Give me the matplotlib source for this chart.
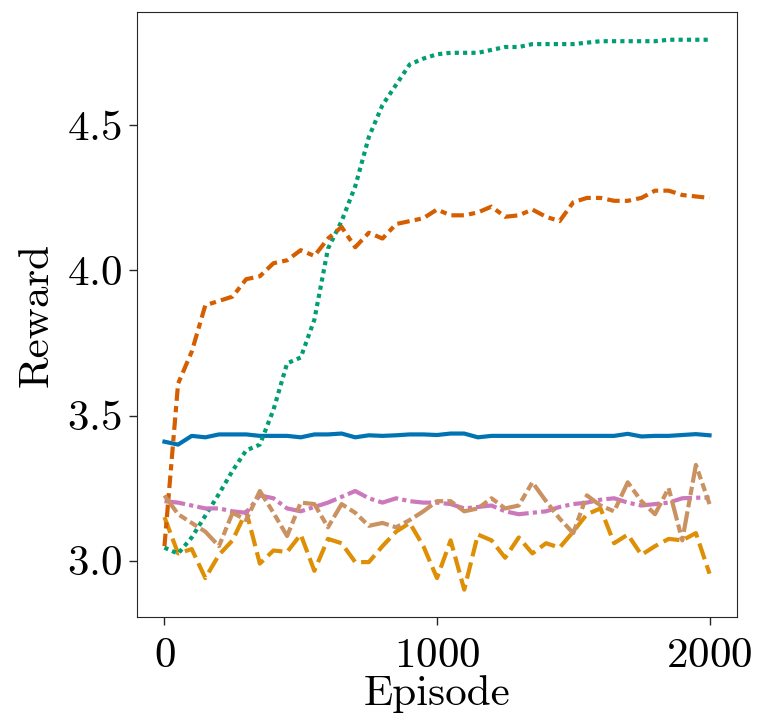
import numpy as np
import matplotlib
matplotlib.use("Agg")
import matplotlib.pyplot as plt

# Episodes (evaluated every 50)
episodes = np.arange(0, 2001, 50)

# Reward curves
blue_solid = [3.41, 3.40, 3.43, 3.425, 3.435, 3.435, 3.435, 3.43, 3.43, 3.43,
              3.425, 3.435, 3.435, 3.438, 3.425, 3.432, 3.43, 3.432, 3.435, 3.435,
              3.433, 3.438, 3.438, 3.425, 3.43, 3.43, 3.43, 3.43, 3.43, 3.43,
              3.43, 3.43, 3.43, 3.43, 3.437, 3.428, 3.43, 3.43, 3.433, 3.436, 3.432]
orange_dash = [3.15, 3.025, 3.04, 2.94, 3.02, 3.07, 3.17, 2.99, 3.035, 3.03,
               3.09, 2.965, 3.075, 3.06, 2.995, 2.995, 3.05, 3.10, 3.13, 3.05,
               2.94, 3.07, 2.90, 3.09, 3.07, 3.01, 3.08, 3.025, 3.06, 3.045,
               3.10, 3.16, 3.18, 3.06, 3.09, 3.02, 3.05, 3.075, 3.07, 3.095, 2.955]
green_dot = [3.045, 3.024, 3.08, 3.155, 3.23, 3.31, 3.38, 3.40, 3.52, 3.68,
             3.70, 3.83, 4.075, 4.17, 4.29, 4.46, 4.57, 4.64, 4.71, 4.73,
             4.745, 4.75, 4.75, 4.75, 4.76, 4.77, 4.77, 4.78, 4.78, 4.78,
             4.78, 4.785, 4.79, 4.79, 4.79, 4.79, 4.79, 4.795, 4.795, 4.795, 4.795]
red_dashdot = [3.05, 3.61, 3.72, 3.88, 3.895, 3.91, 3.97, 3.98, 4.025, 4.035,
               4.07, 4.05, 4.11, 4.15, 4.08, 4.13, 4.11, 4.16, 4.17, 4.18,
               4.21, 4.19, 4.19, 4.20, 4.22, 4.185, 4.19, 4.21, 4.185, 4.17,
               4.235, 4.25, 4.25, 4.24, 4.24, 4.25, 4.275, 4.275, 4.26, 4.255, 4.25]
pink_dashdot = [3.205, 3.20, 3.19, 3.18, 3.18, 3.17, 3.165, 3.225, 3.215, 3.18,
                3.17, 3.185, 3.20, 3.22, 3.24, 3.215, 3.20, 3.215, 3.205, 3.20,
                3.20, 3.195, 3.18, 3.185, 3.19, 3.17, 3.16, 3.165, 3.17, 3.185,
                3.195, 3.20, 3.21, 3.215, 3.20, 3.19, 3.195, 3.20, 3.215, 3.217, 3.217]
brown_dash = [3.225, 3.16, 3.13, 3.10, 3.05, 3.165, 3.14, 3.24, 3.165, 3.085,
              3.20, 3.195, 3.115, 3.195, 3.165, 3.12, 3.13, 3.115, 3.14, 3.17,
              3.205, 3.205, 3.17, 3.18, 3.215, 3.18, 3.19, 3.27, 3.205, 3.145,
              3.095, 3.225, 3.19, 3.17, 3.27, 3.205, 3.16, 3.25, 3.07, 3.33, 3.195]

series = [blue_solid, orange_dash, green_dot, red_dashdot, pink_dashdot, brown_dash]
colors = ["#0173b2", "#de8f05", "#029e73", "#d55e00", "#cc78bc", "#ca9161"]
dashes = [(), (4, 1.5), (1, 1), (3, 1.25, 1.5, 1.25), (5, 1, 1, 1), (5, 1, 2, 1, 2, 1)]

plt.rcParams["font.family"] = "serif"
plt.rcParams["font.serif"] = ["cmr10"]
plt.rcParams["mathtext.fontset"] = "cm"
plt.rcParams["axes.formatter.use_mathtext"] = True

fig = plt.figure(figsize=(7.58, 7.21), dpi=100)
ax = fig.add_axes([0.181, 0.144, 0.791, 0.839])

for vals, c, d in zip(series, colors, dashes):
    line, = ax.plot(episodes, vals, color=c, lw=3)
    if d:
        line.set_dashes(d)

ax.set_xticks([0, 1000, 2000])
ax.set_yticks([3.0, 3.5, 4.0, 4.5])
ax.tick_params(labelsize=31, length=6, width=1, color="#262626")
ax.tick_params(axis="x", pad=9)
ax.tick_params(axis="y", pad=5)
for s in ax.spines.values():
    s.set_color("#262626")
ax.set_xlabel("Episode", fontsize=31, labelpad=0)
ax.set_ylabel("Reward", fontsize=31, labelpad=8)

fig.savefig("out.png", dpi=100)
